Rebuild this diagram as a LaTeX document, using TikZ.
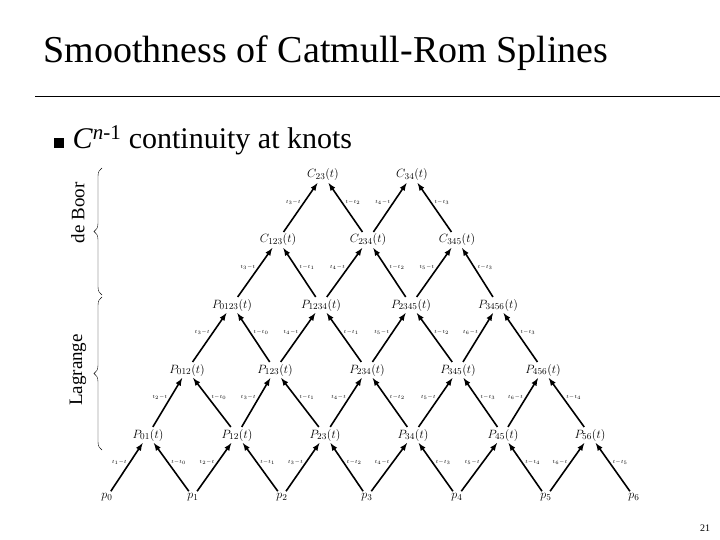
\documentclass[tikz,border=0pt]{standalone}
\usepackage{fontspec}
\setmainfont{Liberation Serif}
\usetikzlibrary{decorations.pathreplacing}
\begin{document}
\begin{tikzpicture}[x=1pt,y=-1pt,
  pt/.style={inner sep=1pt,font=\fontsize{13}{13}\selectfont},
  arr/.style={-latex,line width=1.6pt,shorten >=1pt,shorten <=1pt},
  lab/.style={font=\fontsize{5.5}{5.5}\selectfont,inner sep=0.5pt}]
\useasboundingbox (0,0) rectangle (720,540);
\node[anchor=west,font=\fontsize{38}{38}\selectfont] (title) at (40,53) {Smoothness of Catmull-Rom Splines};
\draw (35,96) -- (720,96);
\node[anchor=west,font=\fontsize{30}{30}\selectfont] (bul) at (50,140) {\rule{10pt}{10pt}\hspace{9pt}\textit{C}\textsuperscript{\textit{n}-1} continuity at knots};
\node[font=\fontsize{10}{10}\selectfont] (pg) at (705,528) {21};
\draw[decorate,decoration={brace,amplitude=8pt}] (102,295) -- (102,168);
\node[rotate=90,font=\fontsize{19}{19}\selectfont] (db) at (78,213) {de Boor};
\draw[decorate,decoration={brace,amplitude=8pt}] (102,450) -- (102,297);
\node[rotate=90,font=\fontsize{19}{19}\selectfont] (lg) at (78,370) {Lagrange};
\foreach \i/\x in {0/107,1/193,2/282,3/367,4/457,5/546,6/634}
  \node[pt] (p\i) at (\x,497) {$p_{\i}$};
\foreach \i/\j/\x in {0/1/148,1/2/237,2/3/325,3/4/413,4/5/503,5/6/590}
  \node[pt] (a\i) at (\x,435) {$P_{\i\j}(t)$};
\foreach \i/\j/\k/\x in {0/1/2/187,1/2/3/275,2/3/4/367,3/4/5/458,4/5/6/543}
  \node[pt] (b\i) at (\x,370) {$P_{\i\j\k}(t)$};
\foreach \i/\j/\k/\l/\x in {0/1/2/3/232,1/2/3/4/321,2/3/4/5/411,3/4/5/6/498}
  \node[pt] (c\i) at (\x,305) {$P_{\i\j\k\l}(t)$};
\foreach \i/\j/\k/\x in {1/2/3/278,2/3/4/368,3/4/5/457}
  \node[pt] (d\i) at (\x,240) {$C_{\i\j\k}(t)$};
\foreach \i/\j/\x in {2/3/323,3/4/412}
  \node[pt] (e\i) at (\x,175) {$C_{\i\j}(t)$};
\tikzset{ll/.style={lab,left=2pt,pos=0.6},rl/.style={lab,right=2pt,pos=0.6}}
\foreach \i [evaluate=\i as \n using int(\i+1)] in {0,...,5}{
  \draw[arr] (p\i) -- node[ll]{$t_{\n}{-}t$} (a\i);
  \draw[arr] (p\n) -- node[rl]{$t{-}t_{\i}$} (a\i);}
\foreach \i [evaluate=\i as \n using int(\i+1), evaluate=\i as \m using int(\i+2)] in {0,...,4}{
  \draw[arr] (a\i) -- node[ll]{$t_{\m}{-}t$} (b\i);
  \draw[arr] (a\n) -- node[rl]{$t{-}t_{\i}$} (b\i);}
\foreach \i [evaluate=\i as \n using int(\i+1), evaluate=\i as \m using int(\i+3)] in {0,...,3}{
  \draw[arr] (b\i) -- node[ll]{$t_{\m}{-}t$} (c\i);
  \draw[arr] (b\n) -- node[rl]{$t{-}t_{\i}$} (c\i);}
\foreach \i [evaluate=\i as \m using int(\i+2), evaluate=\i as \q using int(\i-1)] in {1,2,3}{
  \draw[arr] (c\q) -- node[ll]{$t_{\m}{-}t$} (d\i);
  \draw[arr] (c\i) -- node[rl]{$t{-}t_{\i}$} (d\i);}
\foreach \i [evaluate=\i as \n using int(\i+1), evaluate=\i as \q using int(\i-1)] in {2,3}{
  \draw[arr] (d\q) -- node[ll]{$t_{\n}{-}t$} (e\i);
  \draw[arr] (d\i) -- node[rl]{$t{-}t_{\i}$} (e\i);}
\end{tikzpicture}
\end{document}
